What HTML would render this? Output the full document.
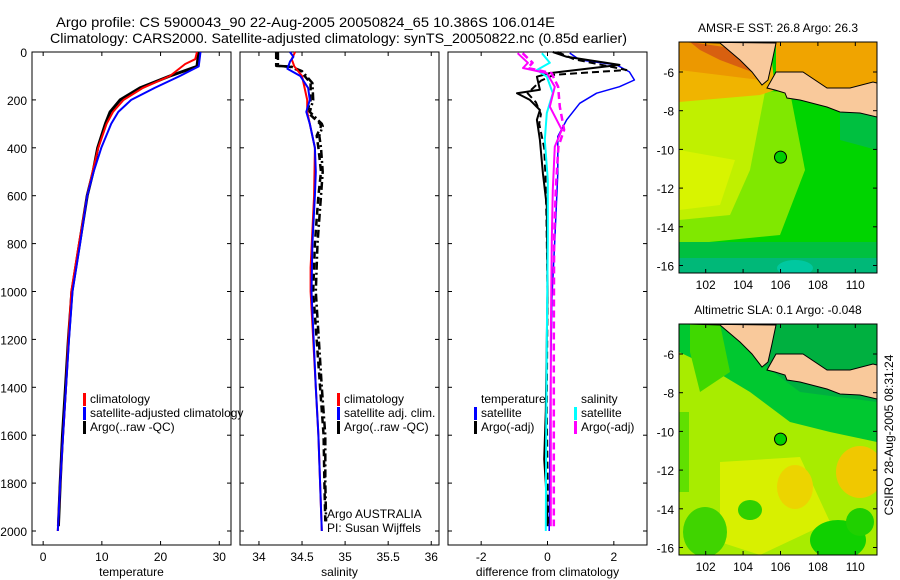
<!DOCTYPE html>
<html><head><meta charset="utf-8"><style>
body{margin:0;background:#fff}
svg{display:block;font-family:"Liberation Sans",sans-serif}
</style></head><body>
<svg id="fig" width="900" height="580" viewBox="0 0 900 580">
<rect width="900" height="580" fill="#fff"/>
<text x="56" y="27" font-size="14" textLength="499" lengthAdjust="spacingAndGlyphs">Argo profile: CS 5900043_90 22-Aug-2005 20050824_65 10.386S 106.014E</text>
<text x="50" y="43" font-size="14" textLength="577" lengthAdjust="spacingAndGlyphs">Climatology: CARS2000. Satellite-adjusted climatology: synTS_20050822.nc (0.85d earlier)</text>
<g id="panels"></g>
<g id="maps"></g>
<text transform="translate(893,435) rotate(-90)" font-size="12" text-anchor="middle">CSIRO 28-Aug-2005 08:31:24</text>
</svg>
<script>
// ---- data ----
const depthTicks=[0,200,400,600,800,1000,1200,1400,1600,1800,2000];
const tempTicks=[0,10,20,30];
const salTicks=[34,34.5,35,35.5,36];
const salTickLabels=["34","34.5","35","35.5","36"];
const diffTicks=[-2,0,2];

const tClimDepth=[0,30,50,100,150,200,250,300,400,500,600,800,1000,1200,1400,1600,1800,2000];
const tClimVal=[26.2,25.9,24.2,21.6,17,13.7,11.9,10.8,9.4,8.4,7.5,6.1,4.8,4.3,3.9,3.4,2.9,2.5];
const tSatDepth=[0,60,100,150,200,250,300,400,500,600,800,1000,1200,1400,1600,1800,2000];
const tSatVal=[26.8,26.5,23.3,19,15,12.8,11.6,9.9,8.6,7.5,6.3,5.0,4.4,3.9,3.4,2.9,2.5];
const tArgoDepth=[0,60,100,150,200,250,300,400,500,600,800,1000,1200,1400,1600,1800,1980];
const tArgoVal=[26.5,26.2,21.6,16.5,13.1,11.4,10.6,9.3,8.5,7.5,6.2,4.9,4.3,3.8,3.3,2.9,2.6];

const sClimDepth=[0,30,60,100,200,250,300,400,600,900,1000,1400,1600,1800,2000];
const sClimVal=[34.42,34.38,34.41,34.5,34.56,34.56,34.59,34.65,34.64,34.6,34.6,34.66,34.69,34.71,34.73];
const sSatDepth=[0,20,40,70,100,150,200,250,300,400,500,600,800,1000,1400,1600,1800,2000];
const sSatVal=[34.36,34.4,34.36,34.33,34.48,34.57,34.59,34.55,34.59,34.65,34.66,34.65,34.62,34.61,34.66,34.69,34.71,34.73];
const sArgoDepth=[0,58,62,80,100,130,200,250,300,310,350,400,500,600,800,1000,1400,1600,1800,1960];
const sArgoVal=[34.2,34.2,34.36,34.48,34.53,34.6,34.6,34.56,34.71,34.72,34.67,34.69,34.72,34.69,34.65,34.63,34.71,34.75,34.76,34.77];
const sAdjVal=[34.22,34.22,34.38,34.5,34.55,34.62,34.63,34.59,34.73,34.74,34.7,34.72,34.74,34.72,34.68,34.66,34.73,34.77,34.77,34.78];

const dTSatDepth=[4,33,54,83,117,145,172,214,283,353,506,785,1035,1500,2000];
const dTSatVal=[0.67,0.97,2.08,2.47,2.62,2.17,1.48,0.97,0.58,0.31,0.31,0.22,0.13,0.08,0.05];
const dTArgoDepth=[0,20,54,88,103,158,172,200,242,283,367,506,645,1000,1500,1700,1800,1980];
const dTArgoVal=[0.16,0.58,2.17,0.07,-0.32,-0.23,-0.92,-0.53,-0.23,-0.32,-0.23,-0.14,-0.02,0,-0.05,-0.1,-0.05,0];
const dTArgo2Depth=[0,30,75,95,120,172,210,260,300,400,520,700,1000,1500,1980];
const dTArgo2Val=[0.3,0.8,2.38,0.2,-0.2,-0.6,-0.35,-0.2,-0.25,-0.1,-0.06,-0.03,0,-0.02,0.02];
const dSSatDepth=[5,45,75,103,172,255,367,534,785,1200,1600,2000];
const dSSatVal=[-0.17,0.07,-0.32,-0.02,0.16,-0.02,-0.08,0.01,0.01,-0.02,-0.04,-0.05];
const dSArgoDepth=[5,45,67,88,145,228,325,395,575,785,1200,1600,1980];
const dSArgoVal=[-0.9,-0.59,-0.74,-0.02,0.22,0.07,0.43,0.22,0.16,0.13,0.1,0.1,0.1];
const dSArgo2Val=[-0.75,-0.45,-0.6,0.12,0.32,0.37,0.5,0.33,0.25,0.2,0.19,0.19,0.19];

// ---- helpers ----
const NS="http://www.w3.org/2000/svg";
const panelsG=document.getElementById('panels');
const mapsG=document.getElementById('maps');
function mk(tag,attrs,parent){const e=document.createElementNS(NS,tag);for(const k in attrs)e.setAttribute(k,attrs[k]);parent.appendChild(e);return e;}
const TOP=52,BOT=545;
function yD(d){return TOP+d*0.2395;}
function scaleX(left,right,lo,hi){return v=>left+(v-lo)/(hi-lo)*(right-left);}

const panels=[
 {name:'temperature',left:32,right:231,lo:-1.9,hi:32,ticks:tempTicks,labels:tempTicks.map(String),label:'temperature'},
 {name:'salinity',left:240,right:439,lo:33.78,hi:36.09,ticks:salTicks,labels:salTickLabels,label:'salinity'},
 {name:'difference',left:448,right:647,lo:-3,hi:3,ticks:diffTicks,labels:diffTicks.map(String),label:'difference from climatology'}
];
panels.forEach((p,i)=>{
  p.x=scaleX(p.left,p.right,p.lo,p.hi);
  const g=mk('g',{},panelsG);
  
  
  const fr=mk('rect',{x:p.left,y:TOP,width:p.right-p.left,height:BOT-TOP,fill:'none',stroke:'#000','stroke-width':1},g);
  
  
  depthTicks.forEach(d=>{
    const y=yD(d);
    mk('line',{x1:p.left,x2:p.left+4,y1:y,y2:y,stroke:'#000'},g);
    mk('line',{x1:p.right-4,x2:p.right,y1:y,y2:y,stroke:'#000'},g);
    if(i===0){
      const t=mk('text',{x:27,y:y+5,'font-size':12,'text-anchor':'end'},g);
      t.textContent=d;
      
      
    }
  });
  p.ticks.forEach((v,j)=>{
    const x=p.x(v);
    mk('line',{x1:x,x2:x,y1:TOP,y2:TOP+4,stroke:'#000'},g);
    mk('line',{x1:x,x2:x,y1:BOT-4,y2:BOT,stroke:'#000'},g);
    const t=mk('text',{x:x,y:561,'font-size':12,'text-anchor':'middle'},g);
    t.textContent=p.labels[j];
    
    
  });
  const xl=mk('text',{x:(p.left+p.right)/2,y:576,'font-size':12,'text-anchor':'middle'},g);
  xl.textContent=p.label;
  
  
});
function line(p,depths,vals,color,w,dash,name){
  const pts=depths.map((d,k)=>p.x(vals[k]).toFixed(1)+','+yD(d).toFixed(1)).join(' ');
  const pl=mk('polyline',{points:pts,fill:'none',stroke:color,'stroke-width':w,'stroke-dasharray':dash||'none','stroke-linejoin':'round'},panelsG);
  
  
}
const [PT,PS,PD]=panels;
line(PT,tArgoDepth,tArgoVal,'#000',3,null,'temp-argo-line');
line(PT,tClimDepth,tClimVal,'#f00',2,null,'temp-climatology-line');
line(PT,tSatDepth,tSatVal,'#00f',2,null,'temp-satellite-line');
line(PS,sArgoDepth,sAdjVal,'#000',2.5,'8,3,2,3','sal-argo-adj-line');
line(PS,sArgoDepth,sArgoVal,'#000',2.5,'7,4','sal-argo-raw-line');
line(PS,sClimDepth,sClimVal,'#f00',2,null,'sal-climatology-line');
line(PS,sSatDepth,sSatVal,'#00f',2,null,'sal-satellite-line');
line(PD,dTSatDepth,dTSatVal,'#00f',1.5,null,'diff-temp-satellite-line');
line(PD,dTArgoDepth,dTArgoVal,'#000',2,null,'diff-temp-argo-line');
line(PD,dTArgo2Depth,dTArgo2Val,'#000',2,'7,4','diff-temp-argo-adj-line');
line(PD,dSSatDepth,dSSatVal,'#0ff',2,null,'diff-sal-satellite-line');
line(PD,dSArgoDepth,dSArgoVal,'#f0f',2,null,'diff-sal-argo-line');
line(PD,dSArgoDepth,dSArgo2Val,'#f0f',2.5,'7,4','diff-sal-argo-adj-line');

function legend(x,y,color,text,name){
  const g=mk('g',{},panelsG);
  
  
  if(color) mk('rect',{x:x-1,y:y-10,width:3,height:13,fill:color},g);
  const t=mk('text',{x:x+6,y:y,'font-size':12},g);
  t.textContent=text;
}
legend(84,403,'#f00','climatology','legend-temp-climatology');
legend(84,417,'#00f','satellite-adjusted climatology','legend-temp-satellite');
legend(84,431,'#000','Argo(..raw -QC)','legend-temp-argo');
legend(338,403,'#f00','climatology','legend-sal-climatology');
legend(338,417,'#00f','satellite adj. clim.','legend-sal-satellite');
legend(338,431,'#000','Argo(..raw -QC)','legend-sal-argo');
legend(475,403,null,'temperature','legend-diff-temp-header');
legend(475,417,'#00f','satellite','legend-diff-temp-satellite');
legend(475,431,'#000','Argo(-adj)','legend-diff-temp-argo');
legend(575,403,null,'salinity','legend-diff-sal-header');
legend(575,417,'#0ff','satellite','legend-diff-sal-satellite');
legend(575,431,'#f0f','Argo(-adj)','legend-diff-sal-argo');
legend(321,518,null,'Argo AUSTRALIA','float-owner-label');
legend(321,532,null,'PI: Susan Wijffels','float-pi-label');

// ---- maps ----
const latTicks=[-6,-8,-10,-12,-14,-16];
const lonTicks=[102,104,106,108,110];
const mapTitles=["AMSR-E SST: 26.8 Argo: 26.3","Altimetric SLA: 0.1 Argo: -0.048"];
function drawMap(top,mi){
  const L=679,R=877,H=231,off=top-42;
  const g=mk('g',{},mapsG);
  
  
  const cp=mk('clipPath',{id:'cp'+mi},g);
  mk('rect',{x:L,y:top,width:R-L,height:H},cp);
  const f=mk('g',{'clip-path':'url(#cp'+mi+')'},g);
  const P=(pts)=>pts.map(q=>q[0]+','+(q[1]+off)).join(' ');
  if(mi===0){
    mk('rect',{x:L,y:top,width:R-L,height:H,fill:'#00d400'},f);
    mk('polygon',{points:P([[679,88],[790,92],[805,170],[780,235],[679,245]]),fill:'#80e800'},f);
    mk('polygon',{points:P([[679,100],[765,92],[750,170],[730,215],[679,220]]),fill:'#c0f000'},f);
    mk('polygon',{points:P([[679,150],[735,160],[720,205],[679,210]]),fill:'#d8f400'},f);
    mk('polygon',{points:P([[679,42],[770,42],[775,90],[760,95],[679,102]]),fill:'#f0b400'},f);
    mk('polygon',{points:P([[679,42],[745,42],[760,80],[720,75],[679,70]]),fill:'#ec9800'},f);
    mk('polygon',{points:P([[690,42],[745,50],[760,75],[720,60],[700,50]]),fill:'#d86010'},f);
    mk('polygon',{points:P([[776,42],[877,42],[877,90],[776,90]]),fill:'#f0a400'},f);
    mk('polygon',{points:P([[679,242],[877,242],[877,273],[679,273]]),fill:'#00c040'},f);
    mk('polygon',{points:P([[679,258],[877,258],[877,273],[679,273]]),fill:'#00b878'},f);
    mk('ellipse',{cx:795,cy:268+off,rx:18,ry:8,fill:'#00c8a0'},f);
    mk('polygon',{points:P([[840,100],[877,100],[877,150],[840,140]]),fill:'#00c040'},f);
  } else {
    mk('rect',{x:L,y:top,width:R-L,height:H,fill:'#a8ec00'},f);
    mk('polygon',{points:P([[679,42],[877,42],[877,160],[830,150],[790,140],[750,110],[700,80],[679,70]]),fill:'#00c830'},f);
    mk('polygon',{points:P([[740,42],[877,42],[877,120],[800,110],[760,80]]),fill:'#00b040'},f);
    mk('polygon',{points:P([[690,42],[720,42],[730,90],[700,110],[690,70]]),fill:'#40d800'},f);
    mk('polygon',{points:P([[720,180],[800,175],[830,240],[760,273],[720,260]]),fill:'#d8f000'},f);
    mk('ellipse',{cx:860,cy:190+off,rx:24,ry:26,fill:'#f0c800'},f);
    mk('ellipse',{cx:795,cy:205+off,rx:18,ry:22,fill:'#ecd400'},f);
    mk('ellipse',{cx:705,cy:250+off,rx:22,ry:25,fill:'#40d400'},f);
    mk('ellipse',{cx:750,cy:228+off,rx:12,ry:10,fill:'#30d000'},f);
    mk('ellipse',{cx:838,cy:258+off,rx:28,ry:20,fill:'#10d000'},f);
    mk('ellipse',{cx:860,cy:240+off,rx:14,ry:14,fill:'#20d000'},f);
    mk('rect',{x:679,y:130+off,width:10,height:80,fill:'#60e000'},f);
  }
  const sum=mk('polygon',{points:P([[688,42],[720,43],[740,60],[752,72],[762,85],[768,80],[772,62],[776,43]]),fill:'#f9c99b',stroke:'#000','stroke-width':1},f);
  
  
  const jav=mk('polygon',{points:P([[776,72],[803,72],[827,88],[850,88],[873,82],[877,83],[877,117],[860,113],[840,112],[827,107],[800,100],[787,98],[785,93],[775,90],[767,88]]),fill:'#f9c99b',stroke:'#000','stroke-width':1},f);
  
  
  const lat=v=>72+off+(-6-v)*19.35, lon=v=>705.7+(v-102)*18.7;
  const mark=mk('circle',{cx:lon(106),cy:lat(-10.4),r:6,fill:'#00d000',stroke:'#000','stroke-width':1},g);
  
  
  mk('rect',{x:L,y:top,width:R-L,height:H,fill:'none',stroke:'#000','stroke-width':1},g);
  latTicks.forEach(v=>{
    const y=lat(v);
    mk('line',{x1:L,x2:L+4,y1:y,y2:y,stroke:'#000'},g);
    mk('line',{x1:R-4,x2:R,y1:y,y2:y,stroke:'#000'},g);
    const t=mk('text',{x:674,y:y+5,'font-size':12,'text-anchor':'end'},g);
    t.textContent=v;
    
    
  });
  lonTicks.forEach(v=>{
    const x=lon(v);
    mk('line',{x1:x,x2:x,y1:top,y2:top+4,stroke:'#000'},g);
    mk('line',{x1:x,x2:x,y1:top+H-4,y2:top+H,stroke:'#000'},g);
    const t=mk('text',{x:x,y:top+H+16,'font-size':12,'text-anchor':'middle'},g);
    t.textContent=v;
    
    
  });
  const tt=mk('text',{x:(L+R)/2,y:top-10,'font-size':12,'text-anchor':'middle'},g);
  tt.textContent=mapTitles[mi];
  
  
}
drawMap(42,0);
drawMap(324,1);
</script>
</body></html>
